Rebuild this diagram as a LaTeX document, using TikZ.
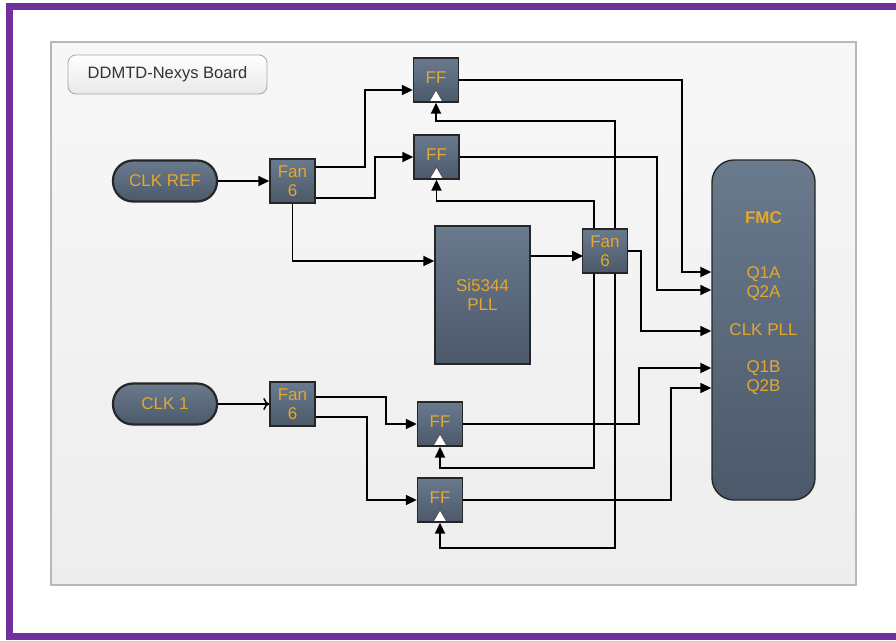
\documentclass[tikz,border=0pt]{standalone}
\usepackage{fontspec}
\setmainfont{Liberation Sans}
\usetikzlibrary{arrows.meta, positioning}

\definecolor{framepurple}{HTML}{7030A0}
\definecolor{blocktop}{HTML}{6A7A8D}
\definecolor{blockbot}{HTML}{4B596A}
\definecolor{labelgold}{HTML}{E6A82C}

\begin{document}
\begin{tikzpicture}[
    x=1pt, y=-1pt,
    >={Triangle[length=11pt, width=10pt]}, % Filled arrow tips
    conn/.style={->, line width=1.8pt}, % Style for signal lines
    block/.style={draw=black!85, line width=1.4pt, top color=blocktop, bottom color=blockbot,
        text=labelgold, font=\fontsize{17}{19}\selectfont, align=center, inner sep=0pt}, % Dark boxes
    fanbox/.style={block, minimum width=45pt, minimum height=44pt}, % Fan-out boxes
    ffbox/.style={block, minimum width=45pt, minimum height=44pt, text depth=5pt,
        path picture={\filldraw[fill=white, draw=black!70, line width=0.7pt]
            ([xshift=-7pt]path picture bounding box.south) -- ([yshift=12pt]path picture bounding box.south)
            -- ([xshift=7pt]path picture bounding box.south) -- cycle;}}, % Flip-flops with clock mark
    clkpill/.style={block, line width=2.2pt, rounded corners=20pt, minimum width=104pt, minimum height=41pt}, % Clock sources
    portlabel/.style={text=labelgold, font=\fontsize{17}{19}\selectfont, inner sep=0pt} % Texts on the FMC
]

    \useasboundingbox (0,0) rectangle (896,640);

    % Frame and board panel
    \fill[white] (0,0) rectangle (896,640);
    \draw[framepurple, line width=7pt] (896,6.5) -- (9.5,6.5) -- (9.5,636.5) -- (896,636.5);
    \draw[black!28, line width=1.2pt, top color=black!3, bottom color=black!7] (51,42) rectangle (856,585);
    \node[draw=black!35, line width=0.8pt, rounded corners=8pt, top color=white, bottom color=black!9,
        minimum width=199pt, minimum height=39pt, text=black!80, font=\fontsize{16.5}{18}\selectfont]
        (boardname) at (167.5,74.5) {DDMTD-Nexys Board};

    % Blocks
    \node[clkpill] (clkref) at (165,181) {CLK REF};
    \node[clkpill] (clkone) at (165,404) {CLK 1};
    \node[fanbox] (fanA) at (292.5,181) {Fan\\6};
    \node[fanbox] (fanB) at (292.5,404) {Fan\\6};
    \node[fanbox] (fanC) at (605,251) {Fan\\6};
    \node[ffbox] (ffA) at (436,80) {FF};
    \node[ffbox] (ffB) at (436.5,157) {FF};
    \node[ffbox] (ffC) at (440,424) {FF};
    \node[ffbox] (ffD) at (440,500) {FF};
    \node[block, minimum width=95pt, minimum height=138pt] (si) at (482.5,295) {Si5344\\PLL};
    \node[block, rounded corners=22pt, minimum width=103pt, minimum height=340pt] (fmc) at (763.5,330) {};

    % FMC ports
    \node[portlabel, font=\fontsize{17}{19}\selectfont\bfseries] (fmcname) at (763.5,218) {FMC};
    \node[portlabel] (qonea) at (763.5,274) {Q1A};
    \node[portlabel] (qtwoa) at (763.5,293) {Q2A};
    \node[portlabel] (clkpll) at (763.5,330) {CLK PLL};
    \node[portlabel] (qoneb) at (763.5,368) {Q1B};
    \node[portlabel] (qtwob) at (763.5,387) {Q2B};

    % Clock inputs
    \draw[conn] (clkref.east) -- (clkref.east -| fanA.west);
    \draw[line width=1.6pt, -{To[length=6pt, width=12pt, line width=1.5pt]}] (clkone.east) -- (clkone.east -| fanB.west);

    % Reference fan-out
    \draw[conn] ([yshift=14pt]fanA.east) -- ++(49,0) |- ([yshift=-10pt]ffA.west);
    \draw[conn] ([yshift=-17pt]fanA.east) -- ++(59,0) |- (ffB.west);
    \draw[conn] (fanA.south) |- ([yshift=34pt]si.west);
    \draw[conn] ([yshift=39pt]si.east) -- ++(52.5,0);

    % CLK 1 fan-out
    \draw[conn] ([yshift=7pt]fanB.east) -- ++(70,0) |- (ffC.west);
    \draw[conn] ([yshift=-13pt]fanB.east) -- ++(51,0) |- (ffD.west);

    % PLL clock to the flip-flops
    \draw[conn] ([xshift=10pt]fanC.north) -- ++(0,-107) -| (ffA.south);
    \draw[conn] ([xshift=-11pt]fanC.north) -- ++(0,-27) -| (ffB.south);
    \draw[conn] ([xshift=-11pt]fanC.south) -- ++(0,194) -| (ffC.south);
    \draw[conn] ([xshift=10pt]fanC.south) -- ++(0,274) -| (ffD.south);

    % Outputs to the FMC
    \draw[conn] (ffA.east) -- ++(223,0) |- ([yshift=58pt]fmc.west);
    \draw[conn] (ffB.east) -- ++(197,0) |- ([yshift=40pt]fmc.west);
    \draw[conn] (fanC.east) -- ++(13,0) |- ([yshift=-1pt]fmc.west);
    \draw[conn] (ffC.east) -- ++(176,0) |- ([yshift=-38pt]fmc.west);
    \draw[conn] (ffD.east) -- ++(208,0) |- ([yshift=-58pt]fmc.west);

\end{tikzpicture}
\end{document}
